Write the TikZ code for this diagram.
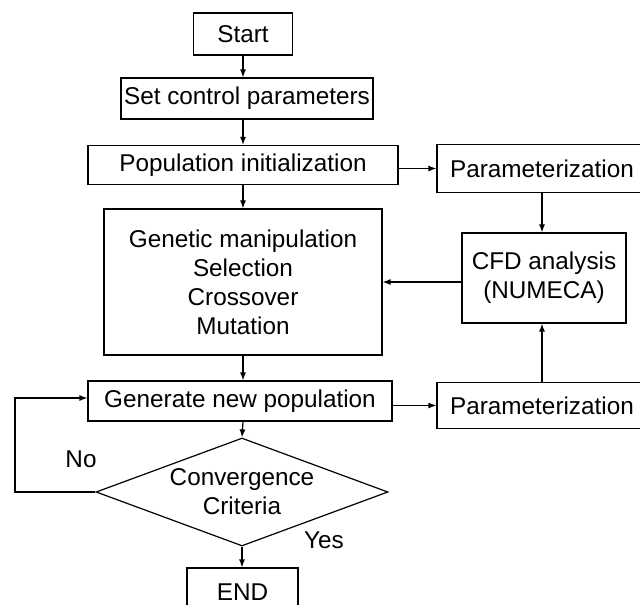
\documentclass[tikz,border=0pt]{standalone}
\usepackage{fontspec}
\setmainfont{Liberation Sans}
\usetikzlibrary{shapes.geometric,arrows.meta}
\begin{document}
\begin{tikzpicture}[x=1pt,y=-1pt,
  every node/.style={font=\fontsize{24.3}{29}\selectfont},
  box/.style={draw,line width=1.2pt,inner sep=0pt,align=center},
  arr/.style={line width=1.2pt,-{Latex[length=8pt,width=6pt]}},
  lbl/.style={inner sep=0pt}]
\useasboundingbox (0,0) rectangle (640,605);
\clip (0,0) rectangle (640,605);
\node[box,minimum width=99pt,minimum height=42pt] (start) at (243,34) {Start};
\node[box,minimum width=252pt,minimum height=41pt] (set) at (247,98.5) {Set control parameters};
\node[box,minimum width=310pt,minimum height=39pt] (pop) at (243,165) {Population initialization};
\node[box,minimum width=210pt,minimum height=48pt] (par1) at (542,168.5) {Parameterization};
\node[box,minimum width=278pt,minimum height=146pt] (gen) at (243,282) {Genetic manipulation\\Selection\\Crossover\\Mutation};
\node[box,minimum width=164pt,minimum height=90pt] (cfd) at (544,278) {CFD analysis\\(NUMECA)};
\node[box,minimum width=304pt,minimum height=40pt] (newpop) at (240,401) {Generate new population};
\node[box,minimum width=210pt,minimum height=46pt] (par2) at (542,405.5) {Parameterization};
\node[box,shape=diamond,aspect=2.7,minimum width=292pt,minimum height=108pt] (dia) at (242,492) {Convergence\\Criteria};
\node[box,minimum width=111pt,minimum height=48pt] (end) at (242.5,592) {END};
\node[lbl] (no) at (81,459) {No};
\node[lbl] (yes) at (324,540) {Yes};
\coordinate (lp) at (15,0);
\draw[arr] (start.south) -- (start.south |- set.north);
\draw[arr] (start.south |- set.south) -- (start.south |- pop.north);
\draw[arr] (start.south |- pop.south) -- (start.south |- gen.north);
\draw[arr] (start.south |- gen.south) -- (start.south |- newpop.north);
\draw[arr] (start.south |- newpop.south) -- (dia.north);
\draw[arr] (dia.south) -- (dia.south |- end.north);
\draw[arr] (pop.east |- par1.west) -- (par1.west);
\draw[arr] (par1.south) -- (par1.south |- cfd.north);
\draw[arr] (par2.north) -- (par2.north |- cfd.south);
\draw[arr] (cfd.west |- gen.east) -- (gen.east);
\draw[arr] (newpop.east |- par2.west) -- (par2.west);
\draw[arr] (dia.west) -- (dia.west -| lp) |- ([yshift=3pt]newpop.west);
\end{tikzpicture}
\end{document}
